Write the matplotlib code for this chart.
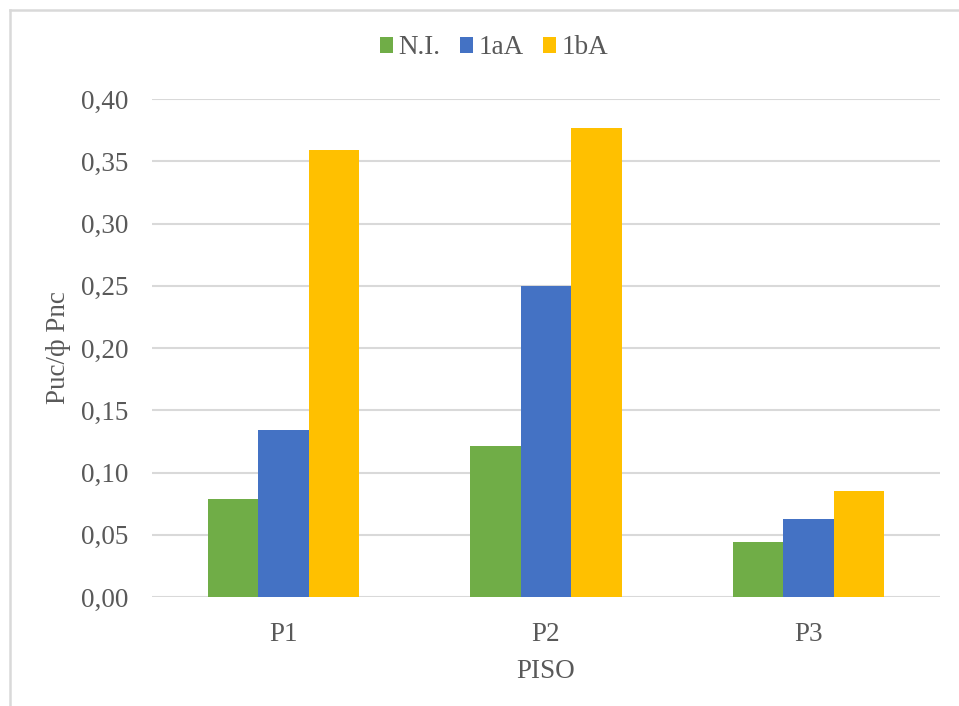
import matplotlib
matplotlib.use("Agg")
import matplotlib.pyplot as plt
from matplotlib.lines import Line2D
from matplotlib.patches import Patch
import numpy as np

plt.rcParams['font.family'] = ['Liberation Serif', 'DejaVu Serif']

categories = ["P1", "P2", "P3"]
series_names = ["N.I.", "1aA", "1bA"]
ni_values = [0.079, 0.121, 0.044]
a1_values = [0.134, 0.250, 0.063]
b1_values = [0.359, 0.377, 0.085]
y_ticks = [0.00, 0.05, 0.10, 0.15, 0.20, 0.25, 0.30, 0.35, 0.40]

colors = ["#70AD47", "#4472C4", "#FFC000"]
text_color = "#595959"
grid_color = "#D9D9D9"
fs = 19.5

W, H = 959, 706
fig = plt.figure(figsize=(W / 100, H / 100), dpi=100)
ax = fig.add_axes([152 / W, 1 - 597 / H, (940 - 152) / W, (597 - 99) / H])

x = np.arange(len(categories))
bw = 0.192
for i, (vals, c, name) in enumerate(zip([ni_values, a1_values, b1_values], colors, series_names)):
    ax.bar(x + (i - 1) * bw, vals, width=bw, color=c, label=name, zorder=3)

ax.set_xlim(-0.5, len(categories) - 0.5)
ax.set_ylim(0, 0.40)
ax.set_yticks(y_ticks)
ax.set_yticklabels([f"{v:.2f}".replace(".", ",") for v in y_ticks])
ax.set_xticks(x)
ax.set_xticklabels(categories)

ax.grid(axis='y', color=grid_color, linewidth=1.5, zorder=0)
ax.set_axisbelow(True)
for s in ax.spines.values():
    s.set_visible(False)
ax.tick_params(axis='both', length=0, labelsize=fs, colors=text_color)
ax.tick_params(axis='y', pad=17)
ax.tick_params(axis='x', pad=18)

ax.set_xlabel("PISO", fontsize=fs, color=text_color, labelpad=9)
ax.set_ylabel("Puc/ф Pnc", fontsize=fs, color=text_color, labelpad=7)

handles = [Patch(facecolor=c, edgecolor='none') for c in colors]
fig.legend(handles, series_names, loc='center', bbox_to_anchor=(494 / W, 1 - 48 / H),
           ncol=3, frameon=False, fontsize=fs, labelcolor=text_color,
           handlelength=0.5, handleheight=0.5, handletextpad=0.2, columnspacing=0.7)

# chart frame
fig.add_artist(Line2D([9.5 / W, 9.5 / W], [0, 1 - 9.5 / H], color=grid_color, linewidth=1.8))
fig.add_artist(Line2D([9.5 / W, 1], [1 - 9.5 / H, 1 - 9.5 / H], color=grid_color, linewidth=1.8))

fig.savefig("out.png", dpi=100, facecolor="white")
